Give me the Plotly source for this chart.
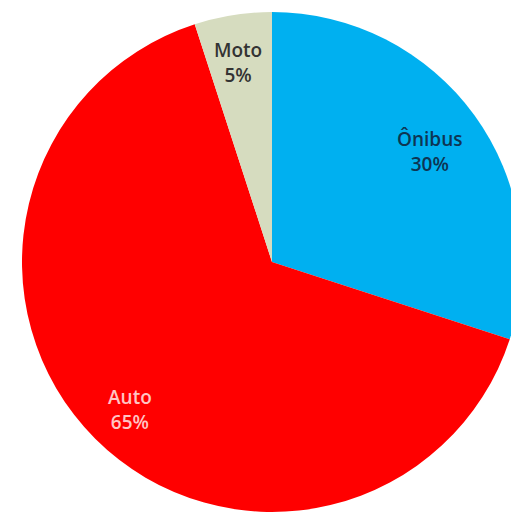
import plotly.graph_objects as go

labels = ["Ônibus", "Auto", "Moto"]
values = [30, 65, 5]
colors = ["#00B0F0", "#FF0000", "#D6DCBF"]
text_colors = ["#0E3553", "#FFC4C4", "#333333"]
# label anchor positions (paper fractions)
label_x = [0.796, 0.241, 0.441]
label_y = [0.720, 0.241, 0.885]

W, H = 540, 540
fig = go.Figure(go.Pie(
    labels=labels,
    values=values,
    sort=False,
    direction="clockwise",
    rotation=0,
    marker=dict(colors=colors, line=dict(width=0)),
    textinfo="none",
    hoverinfo="label+percent",
    showlegend=False,
    domain=dict(x=[22 / W, 522 / W], y=[1 - 512 / H, 1 - 12 / H]),
))
total = sum(values)
for lab, v, c, x, y in zip(labels, values, text_colors, label_x, label_y):
    fig.add_annotation(
        x=x, y=y, xref="paper", yref="paper",
        xanchor="center", yanchor="middle",
        text=f"{lab}<br>{round(100 * v / total)}%",
        showarrow=False, align="center",
        font=dict(family="Open Sans", size=19, color=c, weight=600),
    )
fig.update_layout(
    width=W, height=H, autosize=False,
    margin=dict(l=0, r=0, t=0, b=0),
    paper_bgcolor="white", plot_bgcolor="white",
)
fig.write_html("out.html", config={"displayModeBar": False},
               post_script="document.body.style.margin='0';document.body.style.overflow='hidden';")
